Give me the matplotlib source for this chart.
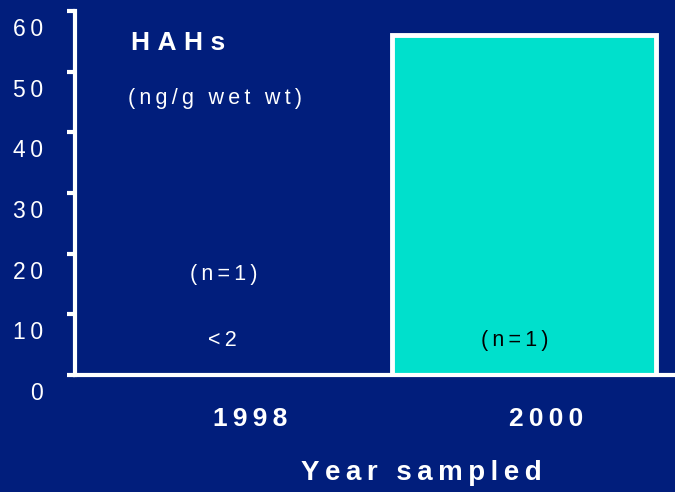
import matplotlib
matplotlib.use('Agg')
import matplotlib.pyplot as plt
from matplotlib.transforms import ScaledTranslation

# data
years = ['1998', '2000']
hahs = [0.0, 56]
n_labels = ['(n=1)', '(n=1)']
y_ticks = [0, 10, 20, 30, 40, 50, 60]

bg = '#011E7C'
bar_col = '#00E0CC'

plt.rcParams['font.family'] = ['Liberation Sans', 'DejaVu Sans']


def spaced(s, sp='\u2009'):
    # the original slide font has wide letter spacing
    return sp.join(s)


fig = plt.figure(figsize=(6.75, 4.92), dpi=100, facecolor=bg)
ax = fig.add_axes([75 / 675, 1 - 375 / 492, 600 / 675, 364 / 492])
ax.set_facecolor(bg)

x = range(len(years))
ax.bar(x, hahs, width=0.89, color=[bg, bar_col], edgecolor=['none', 'white'], linewidth=3.5)

ax.set_xlim(-0.517, 1.51)
ax.set_ylim(0, 60)
ax.set_yticks(y_ticks)
ax.set_yticklabels([spaced(str(t)) for t in y_ticks], color='white', fontsize=16.5)
ax.tick_params(axis='y', colors='white', width=3, length=6, direction='out', pad=17)
ax.tick_params(axis='x', length=0, labelbottom=False)
for lab in ax.get_yticklabels():
    lab.set_transform(lab.get_transform() + ScaledTranslation(0, -0.16, fig.dpi_scale_trans))

for s in ['top', 'right']:
    ax.spines[s].set_visible(False)
for s in ['left', 'bottom']:
    ax.spines[s].set_color('white')
    ax.spines[s].set_linewidth(3)

# year labels
for i, yr in enumerate(years):
    ax.text(i + 0.075, -7.2, spaced(yr), color='white', fontsize=19, fontweight='bold',
            ha='center', va='center', clip_on=False)
fig.text(421 / 675, 1 - 473 / 492, spaced('Year sampled'), color='white', fontsize=20,
         fontweight='bold', ha='center', va='center')

# annotations
ax.text(-0.17, 54.8, spaced('HAHs', '\u2009\u200a'), color='white', fontsize=19,
        fontweight='bold', ha='center', va='center')
ax.text(-0.045, 45.6, spaced('(ng/g wet wt)'), color='white', fontsize=15.5, ha='center', va='center')
ax.text(-0.013, 16.5, spaced(n_labels[0]), color='white', fontsize=15.5, ha='center', va='center')
ax.text(-0.02, 5.7, spaced('<2'), color='white', fontsize=15.5, ha='center', va='center')
ax.text(0.97, 5.7, spaced(n_labels[1]), color='black', fontsize=15.5, ha='center', va='center')

fig.savefig('out.png', dpi=100, facecolor=bg)
